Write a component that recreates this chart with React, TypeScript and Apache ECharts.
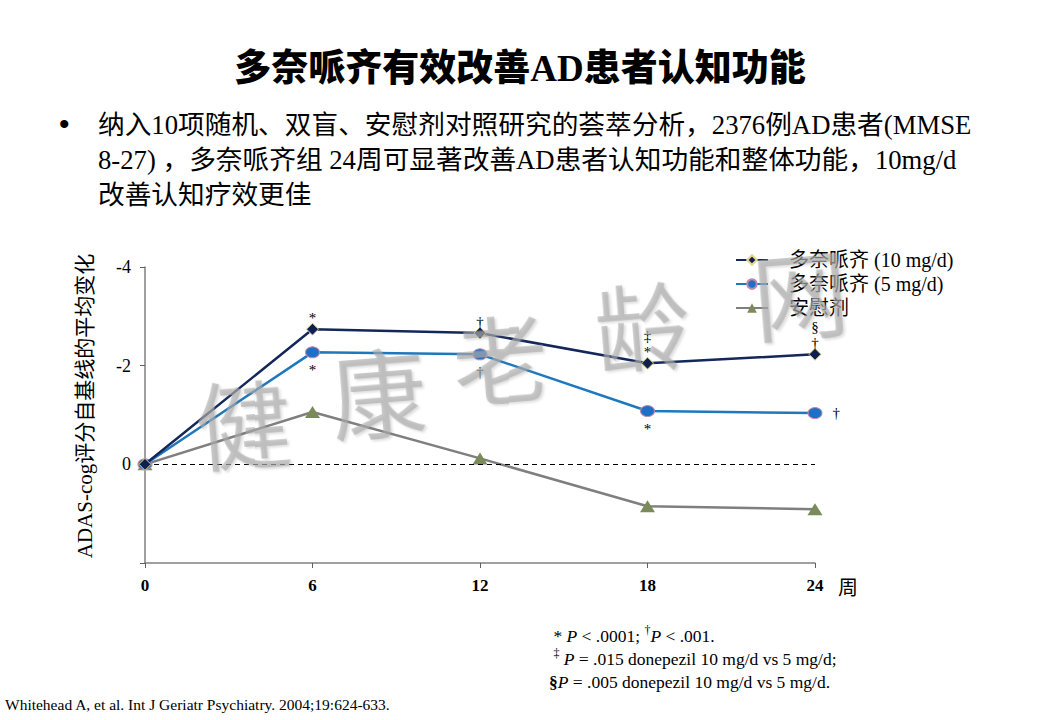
import React, { useEffect, useRef } from "react";
import * as echarts from "echarts";

const weeks = [0, 6, 12, 18, 24];
const dose10 = [0, -2.74, -2.66, -2.05, -2.23];
const dose5 = [0, -2.27, -2.23, -1.08, -1.04];
const placebo = [0, -1.06, -0.12, 0.85, 0.91];
const names = ["多奈哌齐 (10 mg/d)", "多奈哌齐 (5 mg/d)", "安慰剂"];
const notes10 = ["", "*", "†", "‡\n*", "§\n†"];
const notes5 = ["", "*", "†", "*", "†"];
const notes5Pos = ["bottom", "bottom", "bottom", "bottom", "right"];
const yTicks = [-4, -2, 0];
const watermark = ["健", "康", "老", "龄", "网"];

const FONT = "'Liberation Serif', 'Noto Sans CJK SC', serif";
const CJK = "'Noto Sans CJK SC', sans-serif";

export default function App() {
  const ref = useRef<HTMLDivElement>(null);
  useEffect(() => {
    const chart = echarts.init(ref.current!, null, { renderer: "svg" });
    const noteStyle = {
      fontFamily: FONT,
      fontSize: 15,
      lineHeight: 16,
      color: "#000",
      textBorderWidth: 0,
    };
    const wmPos = [
      [243, 420],
      [378, 388],
      [500, 355],
      [642, 322],
      [800, 290],
    ];
    chart.setOption({
      animation: false,
      textStyle: { fontFamily: FONT },
      grid: { left: 145, right: 225, top: 267, bottom: 157 },
      legend: {
        orient: "vertical",
        left: 735,
        top: 250,
        padding: 0,
        itemWidth: 32,
        itemHeight: 12,
        itemGap: 4,
        textStyle: { fontFamily: FONT, fontSize: 20, color: "#000", padding: [0, 0, 0, 16] },
        data: names,
      },
      xAxis: {
        type: "value",
        min: 0,
        max: 24,
        interval: 6,
        axisLine: { onZero: false, lineStyle: { color: "#808080", width: 1.5 } },
        axisTick: { show: true, length: 5, lineStyle: { color: "#606060" } },
        axisLabel: { fontFamily: FONT, fontSize: 17, fontWeight: "bold", color: "#000", margin: 14 },
        splitLine: { show: false },
      },
      yAxis: {
        type: "value",
        inverse: true,
        min: -4,
        max: 2,
        interval: 2,
        axisLine: { show: true, lineStyle: { color: "#808080", width: 1.5 } },
        axisTick: { show: true, length: 5, lineStyle: { color: "#606060" } },
        axisLabel: {
          fontFamily: FONT,
          fontSize: 18,
          color: "#000",
          margin: 14,
          formatter: (v: number) => (yTicks.includes(v) ? String(v) : ""),
        },
        splitLine: { show: false },
      },
      series: [
        {
          name: names[0],
          type: "line",
          z: 5,
          data: weeks.map((w, i) => [w, dose10[i]]),
          symbol: "diamond",
          symbolSize: 12,
          showSymbol: true,
          label: {
            show: true,
            position: "top",
            distance: -3,
            formatter: (p: any) => notes10[p.dataIndex],
            ...noteStyle,
          },
          labelLayout: { hideOverlap: false },
          lineStyle: { color: "#14275a", width: 2.5 },
          itemStyle: { color: "#0e2050", borderColor: "#e6d68a", borderWidth: 1 },
          markLine: {
            silent: true,
            symbol: "none",
            label: { show: false },
            lineStyle: { color: "#000", type: [5, 4], width: 1 },
            data: [{ yAxis: 0 }],
          },
        },
        {
          name: names[1],
          type: "line",
          z: 4,
          data: weeks.map((w, i) => ({
            value: [w, dose5[i]],
            label: { position: notes5Pos[i], distance: notes5Pos[i] === "right" ? 10 : 4 },
          })),
          symbol: "circle",
          symbolSize: [14, 11],
          label: {
            show: true,
            position: "bottom",
            formatter: (p: any) => notes5[p.dataIndex],
            ...noteStyle,
          },
          lineStyle: { color: "#1e78be", width: 2.5 },
          itemStyle: { color: "#1f6fc8", borderColor: "#c08aa8", borderWidth: 1 },
        },
        {
          name: names[2],
          type: "line",
          z: 3,
          data: weeks.map((w, i) => [w, placebo[i]]),
          symbol: "triangle",
          symbolSize: [15, 12],
          lineStyle: { color: "#7f7f7f", width: 2.5 },
          itemStyle: { color: "#7a8a5a" },
        },
      ],
      graphic: [
        {
          type: "text",
          left: "center",
          top: 50,
          style: {
            text: "多奈哌齐有效改善AD患者认知功能",
            font: `900 37px ${FONT}`,
            fill: "#000",
          },
        },
        {
          type: "text",
          x: 59,
          y: 108,
          style: { text: "•", font: `30px 'Liberation Sans', sans-serif`, fill: "#000" },
        },
        {
          type: "text",
          x: 98,
          y: 107,
          style: {
            text:
              "纳入10项随机、双盲、安慰剂对照研究的荟萃分析，2376例AD患者(MMSE\n8-27) ，多奈哌齐组 24周可显著改善AD患者认知功能和整体功能，10mg/d\n改善认知疗效更佳",
            font: `26.7px ${FONT}`,
            lineHeight: 35,
            fill: "#000",
          },
        },
        {
          type: "text",
          x: 85,
          y: 406,
          rotation: Math.PI / 2,
          style: {
            text: "ADAS-cog评分自基线的平均变化",
            font: `21px ${FONT}`,
            fill: "#000",
            align: "center",
            verticalAlign: "middle",
          },
        },
        {
          type: "text",
          x: 838,
          y: 576,
          style: { text: "周", font: `20px ${CJK}`, fill: "#000" },
        },
        {
          type: "text",
          x: 549,
          y: 624,
          style: {
            text:
              " * {i|P} < .0001; {s|†}{i|P} < .001.\n {s|‡} {i|P} = .015 donepezil 10 mg/d vs 5 mg/d;\n{b|§}{i|P} = .005 donepezil 10 mg/d vs 5 mg/d.",
            font: `17.5px ${FONT}`,
            lineHeight: 23,
            fill: "#000",
            rich: {
              i: { fontStyle: "italic", fontSize: 17.5, fontFamily: FONT },
              s: { fontSize: 12, fontFamily: FONT, verticalAlign: "top" },
              b: { fontSize: 17.5, fontWeight: "bold", fontFamily: FONT },
            },
          },
        },
        {
          type: "text",
          x: 5,
          y: 697,
          style: {
            text: "Whitehead A, et al. Int J Geriatr Psychiatry. 2004;19:624-633.",
            font: `15.5px ${FONT}`,
            fill: "#000",
          },
        },
        ...watermark.map((c, i) => ({
          type: "text",
          x: wmPos[i][0],
          y: wmPos[i][1],
          z: 100,
          rotation: 0.08,
          style: {
            text: c,
            font: `96px ${CJK}`,
            fill: "rgba(170,170,170,0.65)",
            align: "center",
            verticalAlign: "middle",
            textShadowColor: "rgba(120,120,120,0.35)",
            textShadowOffsetX: 2,
            textShadowOffsetY: 2,
            textShadowBlur: 2,
          },
        })),
      ],
    });
    return () => chart.dispose();
  }, []);
  return (
    <div
      ref={ref}
      style={{ position: "absolute", left: 0, top: 0, width: 1040, height: 720, background: "#fff" }}
    />
  );
}
